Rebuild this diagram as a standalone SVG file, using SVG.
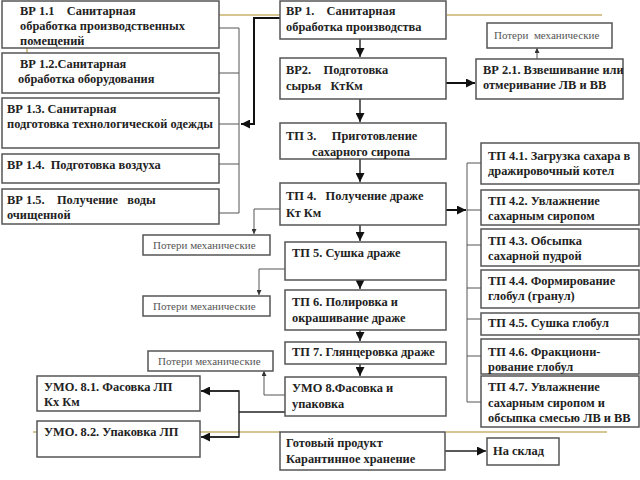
<svg xmlns="http://www.w3.org/2000/svg" width="640" height="480" viewBox="0 0 640 480">
<style>
.b{fill:#fff;stroke:#555;stroke-width:1.5}
.t{font-family:"Liberation Serif","Times New Roman",serif;font-weight:bold;font-size:12.4px;fill:#222}
.p{font-family:"Liberation Serif","Times New Roman",serif;font-size:11px;fill:#555}
.c{fill:none;stroke:#222;stroke-width:1.4}
.k{fill:none;stroke:#111;stroke-width:2}
.g{fill:none;stroke:#555;stroke-width:1}
.d{fill:none;stroke:#c9b26e;stroke-width:1.5}
</style>
<defs>
<marker id="a" viewBox="0 0 10 10" refX="10" refY="5" markerWidth="9" markerHeight="9" markerUnits="userSpaceOnUse" orient="auto"><path d="M0,0L10,5L0,10z" fill="#111"/></marker>
<marker id="s" viewBox="0 0 10 10" refX="10" refY="5" markerWidth="5" markerHeight="5" markerUnits="userSpaceOnUse" orient="auto"><path d="M0,0L10,5L0,10z" fill="#333"/></marker>
</defs>
<rect width="640" height="480" fill="#fff"/>
<g id="decor">
<path class="d" d="M219,15H280M447,15H602M27,48V53M33,432H280M446,432H607"/>
</g>
<g id="connectors">
<path class="c" d="M360,39V57" marker-end="url(#a)"/>
<path class="c" d="M360,99V122" marker-end="url(#a)"/>
<path class="c" d="M360,159V182" marker-end="url(#a)"/>
<path class="c" d="M360,225V241" marker-end="url(#a)"/>
<path class="c" d="M360,280V289" marker-end="url(#a)"/>
<path class="c" d="M360,330V341" marker-end="url(#a)"/>
<path class="c" d="M360,364V376" marker-end="url(#a)"/>
<path class="k" d="M446,83H475" marker-end="url(#a)"/>
<path class="g" d="M537,59V48" marker-end="url(#s)"/>
<path class="k" d="M280,18H254V124H241" marker-end="url(#a)"/>
<path class="g" d="M219,28H239V213H219M219,73H239M219,124H239M219,164H239"/>
<path class="k" d="M446,210H466" marker-end="url(#a)"/>
<path class="g" d="M481,163H467V402H481M467,210H481M467,245H481M467,288H481M467,319H481M467,356H481"/>
<path class="g" d="M280,209H254V234" marker-end="url(#s)"/>
<path class="g" d="M285,269H259V295" marker-end="url(#s)"/>
<path class="g" d="M285,395H264V371" marker-end="url(#s)"/>
<path class="c" d="M285,412H239"/>
<path class="c" d="M201,391H239V437H201"/>
<path class="c" d="M239,391H201" marker-end="url(#a)"/>
<path class="c" d="M239,437H201" marker-end="url(#a)"/>
<path class="c" d="M445,451H486" marker-end="url(#a)"/>
</g>
<g id="vr1-1"><rect class="b" x="2" y="1" width="217" height="47"/><text class="t" x="20" y="15" xml:space="preserve">ВР 1.1    Санитарная</text><text class="t" x="20" y="30">обработка производственных</text><text class="t" x="20" y="45">помещений</text></g>
<g id="vr1-2"><rect class="b" x="2" y="53" width="217" height="40"/><text class="t" x="20" y="68">ВР 1.2.Санитарная</text><text class="t" x="18" y="83">обработка оборудования</text></g>
<g id="vr1-3"><rect class="b" x="2" y="98" width="217" height="50"/><text class="t" x="7" y="113">ВР 1.3. Санитарная</text><text class="t" x="7" y="128">подготовка технологической одежды</text></g>
<g id="vr1-4"><rect class="b" x="2" y="154" width="217" height="29"/><text class="t" x="7" y="169" xml:space="preserve">ВР 1.4.  Подготовка воздуха</text></g>
<g id="vr1-5"><rect class="b" x="2" y="189" width="217" height="35"/><text class="t" x="7" y="204" xml:space="preserve">ВР 1.5.    Получение   воды</text><text class="t" x="7" y="219">очищенной</text></g>
<g id="vr1"><rect class="b" x="280" y="1" width="166" height="38"/><text class="t" x="286" y="15" xml:space="preserve">ВР 1.    Санитарная</text><text class="t" x="286" y="31">обработка производства</text></g>
<g id="vr2"><rect class="b" x="280" y="58" width="166" height="41"/><text class="t" x="286" y="74" xml:space="preserve">ВР2.    Подготовка</text><text class="t" x="286" y="90" xml:space="preserve">сырья   КтКм</text></g>
<g id="vr2-1"><rect class="b" x="476" y="59" width="147" height="40"/><text class="t" x="483" y="74">ВР 2.1. Взвешивание или</text><text class="t" x="483" y="89">отмеривание ЛВ и ВВ</text></g>
<g id="loss0"><rect class="b" x="487" y="23" width="125" height="25"/><text class="p" x="494" y="39" xml:space="preserve">Потери  механические</text></g>
<g id="tp3"><rect class="b" x="280" y="123" width="166" height="36"/><text class="t" x="286" y="140" xml:space="preserve">ТП 3.     Приготовление</text><text class="t" x="312" y="156">сахарного сиропа</text></g>
<g id="tp4"><rect class="b" x="280" y="183" width="166" height="42"/><text class="t" x="286" y="200" xml:space="preserve">ТП 4.   Получение драже</text><text class="t" x="286" y="217">Кт Км</text></g>
<g id="tp4-1"><rect class="b" x="481" y="143" width="158" height="41"/><text class="t" x="488" y="160">ТП 4.1. Загрузка сахара в</text><text class="t" x="488" y="175">дражировочный котел</text></g>
<g id="tp4-2"><rect class="b" x="481" y="190" width="158" height="35"/><text class="t" x="488" y="205">ТП 4.2. Увлажнение</text><text class="t" x="488" y="220">сахарным сиропом</text></g>
<g id="tp4-3"><rect class="b" x="481" y="229" width="158" height="37"/><text class="t" x="488" y="245">ТП 4.3. Обсыпка</text><text class="t" x="488" y="260">сахарной пудрой</text></g>
<g id="tp4-4"><rect class="b" x="481" y="270" width="158" height="38"/><text class="t" x="488" y="285">ТП 4.4. Формирование</text><text class="t" x="488" y="300">глобул (гранул)</text></g>
<g id="tp4-5"><rect class="b" x="481" y="313" width="158" height="22"/><text class="t" x="488" y="327">ТП 4.5. Сушка глобул</text></g>
<g id="tp4-6"><rect class="b" x="481" y="339" width="158" height="35"/><text class="t" x="488" y="356">ТП 4.6. Фракциони-</text><text class="t" x="488" y="371">рование глобул</text></g>
<g id="tp4-7"><rect class="b" x="481" y="376" width="158" height="51"/><text class="t" x="488" y="391">ТП 4.7. Увлажнение</text><text class="t" x="488" y="407">сахарным сиропом и</text><text class="t" x="488" y="422">обсыпка смесью ЛВ и ВВ</text></g>
<g id="tp5"><rect class="b" x="285" y="242" width="161" height="38"/><text class="t" x="292" y="257">ТП 5. Сушка драже</text></g>
<g id="tp6"><rect class="b" x="285" y="290" width="161" height="40"/><text class="t" x="292" y="306">ТП 6. Полировка и</text><text class="t" x="292" y="322">окрашивание драже</text></g>
<g id="tp7"><rect class="b" x="285" y="342" width="161" height="22"/><text class="t" x="292" y="356">ТП 7. Глянцеровка драже</text></g>
<g id="umo8"><rect class="b" x="285" y="377" width="161" height="39"/><text class="t" x="292" y="392">УМО 8.Фасовка и</text><text class="t" x="292" y="408">упаковка</text></g>
<g id="product"><rect class="b" x="280" y="432" width="165" height="38"/><text class="t" x="286" y="447">Готовый продукт</text><text class="t" x="286" y="463">Карантинное хранение</text></g>
<g id="store"><rect class="b" x="487" y="438" width="72" height="27"/><text class="t" x="493" y="455">На склад</text></g>
<g id="loss1"><rect class="b" x="143" y="235" width="127" height="20"/><text class="p" x="153" y="249">Потери механические</text></g>
<g id="loss2"><rect class="b" x="143" y="296" width="127" height="20"/><text class="p" x="153" y="310">Потери механические</text></g>
<g id="loss3"><rect class="b" x="148" y="351" width="125" height="20"/><text class="p" x="158" y="365">Потери механические</text></g>
<g id="umo8-1"><rect class="b" x="37" y="376" width="163" height="35"/><text class="t" x="44" y="391">УМО. 8.1. Фасовка ЛП</text><text class="t" x="44" y="406">Кх Км</text></g>
<g id="umo8-2"><rect class="b" x="37" y="421" width="163" height="36"/><text class="t" x="44" y="436">УМО. 8.2. Упаковка ЛП</text></g>
</svg>
